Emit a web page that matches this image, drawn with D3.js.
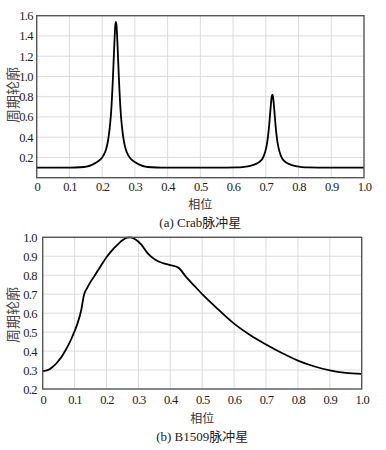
<!DOCTYPE html>
<html>
<head>
<meta charset="utf-8">
<script src="https://cdn.jsdelivr.net/npm/d3@7"></script>
<style>
  body { margin: 0; background: #fff; }
</style>
</head>
<body>
<svg id="chart" width="386" height="450"></svg>
<script>
var serif = '"Liberation Serif", "Times New Roman", "DejaVu Serif", serif';
var cjk = '"Noto Sans CJK SC", sans-serif';

// Crab pulsar profile: phase, profile value
var crabPhase = [0, 0.05, 0.102, 0.132, 0.152, 0.167, 0.182, 0.194, 0.204, 0.212, 0.217, 0.222, 0.226, 0.229, 0.232, 0.234, 0.236, 0.238, 0.240, 0.242,
  0.244, 0.246, 0.248, 0.250, 0.252, 0.255, 0.258, 0.262, 0.267, 0.272, 0.280, 0.290, 0.302, 0.317, 0.332, 0.352, 0.382, 0.45, 0.55, 0.580, 0.610,
  0.630, 0.645, 0.660, 0.672, 0.682, 0.690, 0.695, 0.700, 0.704, 0.707, 0.710, 0.712, 0.714, 0.716, 0.718, 0.720,
  0.722, 0.724, 0.726, 0.728, 0.730, 0.733, 0.736, 0.740, 0.745, 0.750, 0.758, 0.768, 0.780, 0.795, 0.810, 0.830, 0.860, 0.90, 1.0];
var crabValue = [0.1, 0.1, 0.1, 0.103, 0.11, 0.125, 0.15, 0.178, 0.22, 0.28, 0.35, 0.46, 0.59, 0.73, 0.92, 1.07, 1.23, 1.38, 1.50, 1.54,
  1.50, 1.38, 1.23, 1.07, 0.92, 0.73, 0.59, 0.46, 0.35, 0.28, 0.22, 0.178, 0.15, 0.125, 0.11, 0.103, 0.1, 0.1, 0.1, 0.1, 0.101,
  0.105, 0.112, 0.125, 0.139, 0.16, 0.19, 0.225, 0.28, 0.345, 0.415, 0.51, 0.585, 0.665, 0.74, 0.80, 0.82,
  0.80, 0.74, 0.665, 0.585, 0.51, 0.415, 0.345, 0.28, 0.225, 0.19, 0.16, 0.139, 0.125, 0.112, 0.105, 0.101, 0.1, 0.1, 0.1];

// B1509 pulsar profile
var b1509Phase = [0, 0.01, 0.02, 0.03, 0.04, 0.05, 0.06, 0.07, 0.08, 0.09, 0.10, 0.11, 0.12, 0.13, 0.14, 0.15, 0.16, 0.175, 0.19, 0.20,
  0.225, 0.25, 0.265, 0.275, 0.29, 0.31, 0.326, 0.34, 0.36, 0.38, 0.40, 0.425, 0.45, 0.475, 0.50, 0.55, 0.60, 0.65, 0.70, 0.75, 0.80, 0.85, 0.90, 0.95, 1.0];
var b1509Value = [0.295, 0.297, 0.303, 0.315, 0.33, 0.35, 0.372, 0.40, 0.43, 0.465, 0.505, 0.55, 0.61, 0.70, 0.735, 0.765, 0.79, 0.83, 0.87, 0.895,
  0.945, 0.985, 0.998, 1.0, 0.99, 0.96, 0.922, 0.898, 0.875, 0.862, 0.853, 0.84, 0.79, 0.745, 0.70, 0.62, 0.545, 0.485, 0.435, 0.39, 0.35, 0.32, 0.298, 0.285, 0.28];

var xTicks = [0, 0.1, 0.2, 0.3, 0.4, 0.5, 0.6, 0.7, 0.8, 0.9, 1.0];
var yTicksA = [0.2, 0.4, 0.6, 0.8, 1.0, 1.2, 1.4, 1.6];
var yTicksB = [0.2, 0.3, 0.4, 0.5, 0.6, 0.7, 0.8, 0.9, 1.0];

var svg = d3.select('#chart');

function styleTicks(sel) {
  sel.attr('font-family', serif).attr('font-size', 12);
  sel.selectAll('text').attr('fill', '#222')
    .style('font-family', serif).style('font-size', '12.5px').style('letter-spacing', '-0.7px');
}

function panel(opt) {
  var x = d3.scaleLinear().domain([0, 1]).range([opt.left, opt.right]);
  var y = d3.scaleLinear().domain(opt.yDomain).range([opt.bottom, opt.top]);
  var g = svg.append('g');

  // grid
  g.append('g').selectAll('line').data(xTicks.slice(1, -1)).enter().append('line')
    .attr('x1', d => x(d)).attr('x2', d => x(d))
    .attr('y1', opt.top).attr('y2', opt.bottom)
    .attr('stroke', '#dcdcdc').attr('stroke-width', 1);
  g.append('g').selectAll('line').data(opt.yTicks.filter(d => d > opt.yDomain[0] && d < opt.yDomain[1])).enter().append('line')
    .attr('x1', opt.left).attr('x2', opt.right)
    .attr('y1', d => y(d)).attr('y2', d => y(d))
    .attr('stroke', '#dcdcdc').attr('stroke-width', 1);

  // axes (labels only)
  var xa = g.append('g').attr('transform', 'translate(0,' + opt.bottom + ')')
    .call(d3.axisBottom(x).tickValues(xTicks).tickSize(0).tickPadding(opt.xPad)
      .tickFormat(d => d === 0 ? '0' : d3.format('.1f')(d)));
  xa.select('.domain').remove();
  styleTicks(xa);
  var ya = g.append('g').attr('transform', 'translate(' + opt.left + ',0)')
    .call(d3.axisLeft(y).tickValues(opt.yTicks).tickSize(0).tickPadding(opt.yPad)
      .tickFormat(d3.format('.1f')));
  ya.select('.domain').remove();
  styleTicks(ya);

  // curve
  var line = d3.line().x(d => x(d[0])).y(d => y(d[1])).curve(d3.curveMonotoneX);
  g.append('path').datum(d3.zip(opt.phase, opt.value))
    .attr('d', line).attr('fill', 'none').attr('stroke', '#000').attr('stroke-width', 1.8)
    .attr('stroke-linejoin', 'round');

  // frame
  g.append('rect').attr('x', opt.left).attr('y', opt.top)
    .attr('width', opt.right - opt.left).attr('height', opt.bottom - opt.top)
    .attr('fill', 'none').attr('stroke', '#555').attr('stroke-width', 1.4);

  // titles
  g.append('text').attr('x', (opt.left + opt.right) / 2).attr('y', opt.xTitleY)
    .attr('text-anchor', 'middle').style('font-family', cjk).style('font-size', '12px').attr('fill', '#333')
    .text('相位');
  g.append('text').attr('x', (opt.left + opt.right) / 2).attr('y', opt.capY)
    .attr('text-anchor', 'middle').style('font-family', serif + ', ' + cjk).style('font-size', '13px').attr('fill', '#222')
    .text(opt.caption);
  g.append('text')
    .attr('transform', 'translate(' + opt.yTitleX + ',' + opt.yTitleY + ') rotate(-90)')
    .attr('text-anchor', 'middle').style('font-family', cjk).style('font-size', '14px').attr('fill', '#444')
    .text('周期轮廓');
}

panel({
  left: 36.7, right: 364, top: 15.7, bottom: 177.7, yDomain: [0, 1.6], yTicks: yTicksA, yPad: 4, xPad: 4,
  phase: crabPhase, value: crabValue,
  xTitleY: 209, capY: 227, caption: '(a) Crab脉冲星', yTitleX: 18, yTitleY: 95
});
panel({
  left: 42.7, right: 361.7, top: 237.3, bottom: 389, yDomain: [0.2, 1.0], yTicks: yTicksB, yPad: 6, xPad: 6,
  phase: b1509Phase, value: b1509Value,
  xTitleY: 423, capY: 441, caption: '(b) B1509脉冲星', yTitleX: 18, yTitleY: 315
});
</script>
</body>
</html>
